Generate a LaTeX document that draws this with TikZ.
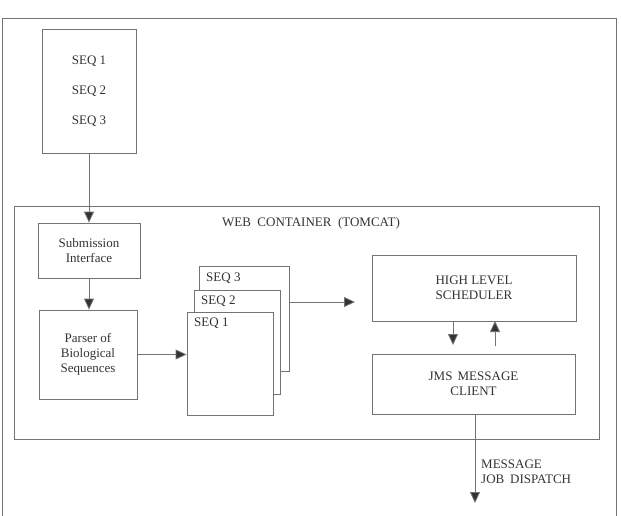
\documentclass[tikz,border=0pt]{standalone}
\usepackage{fontspec}
\setmainfont{Liberation Serif}
\usetikzlibrary{arrows.meta,calc}
\definecolor{framegray}{gray}{0.45}
\definecolor{inkgray}{gray}{0.2}
\tikzset{
  box/.style={draw=framegray, line width=0.8pt, fill=white, inner sep=0pt,
    align=center, text=inkgray,
    font=\fontsize{13}{14.8}\selectfont},
  txt/.style={inner sep=0pt, text=inkgray, font=\fontsize{13}{14.8}\selectfont},
  flow/.style={draw=framegray, line width=0.8pt,
    -{Triangle[length=11pt,width=10pt,fill=inkgray]}},
}
\begin{document}
\begin{tikzpicture}[x=1pt,y=-1pt]
\useasboundingbox (0,0) rectangle (621,516);
% outer page frame, open at the bottom
\draw[framegray, line width=0.8pt] (2,516) -- (2,18) -- (616,18) -- (616,516);

% input sequences
\node[box, minimum width=94pt, minimum height=124pt] (seqin) at (89,91)
  {SEQ 1\\[15pt]SEQ 2\\[15pt]SEQ 3};

% web container
\node[box, fill=none, minimum width=585pt, minimum height=233pt] (web) at (306.5,322.5) {};
\node[txt, anchor=base] (webtitle) at (311,226) {WEB\hspace{0.5em}CONTAINER\hspace{0.5em}(TOMCAT)};

\node[box, minimum width=102pt, minimum height=55pt] (sub) at (89,250.5)
  {Submission\\Interface};
\node[box, minimum width=98pt, minimum height=89pt] (parser) at (88,354.5)
  {Parser of\\Biological\\Sequences};

% stacked sequence sheets
\node[box, minimum width=90pt, minimum height=105pt] (s3) at (244,318.5) {};
\node[box, minimum width=86pt, minimum height=104pt] (s2) at (237,342) {};
\node[box, minimum width=86pt, minimum height=103pt] (s1) at (230,363.5) {};
\node[txt, anchor=base west] (s3l) at (206,281) {SEQ 3};
\node[txt, anchor=base west] (s2l) at (201,304) {SEQ 2};
\node[txt, anchor=base west] (s1l) at (194,326) {SEQ 1};

\node[box, minimum width=204pt, minimum height=66pt] (hls) at (474,288)
  {HIGH LEVEL\\SCHEDULER};
\node[box, minimum width=203pt, minimum height=60pt] (jms) at (473.5,384)
  {JMS\hspace{0.4em}MESSAGE\\CLIENT};

\coordinate (s3out) at (289,302);
\coordinate (s3end) at (355,302);
\coordinate (downA) at (453,321);
\coordinate (downB) at (453,345);
\coordinate (upA) at (495,346);
\coordinate (upB) at (495,321);
\coordinate (dispatch) at (475,503);

% connectors
\draw[flow] (seqin.south) -- (sub.north);
\draw[flow] (sub.south) -- (sub.south |- parser.north);
\draw[flow] (parser.east) -- (s1.west |- parser.east);
\draw[flow] (s3out) -- (s3end);
\draw[flow] (downA) -- (downB);
\draw[flow] (upA) -- (upB);
\draw[flow] (jms.south -| dispatch) -- (dispatch);

\node[txt, anchor=base west] (msg) at (481,468) {MESSAGE};
\node[txt, anchor=base west] (job) at (481,483) {JOB\hspace{0.45em}DISPATCH};
\end{tikzpicture}
\end{document}
